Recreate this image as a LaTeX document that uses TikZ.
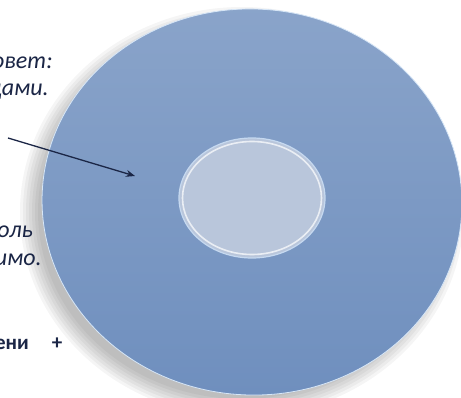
\documentclass[tikz,border=0pt]{standalone}
\usepackage{fontspec}
\setmainfont{Carlito}
\usetikzlibrary{arrows.meta, shapes.geometric}
\definecolor{cDISCtop}{HTML}{8AA4CA}
\definecolor{cDISCbot}{HTML}{6F8FBE}
\definecolor{cRIM}{HTML}{D6E6F7}
\definecolor{cHOLE}{HTML}{B9C6DB}
\definecolor{cHOLErim}{HTML}{C6D9F0}
\definecolor{cTXT}{HTML}{1B2646}

\begin{document}
\begin{tikzpicture}[x=1pt, y=-1pt,
  lbl/.style={anchor=base east, inner sep=0pt, text=cTXT, font=\fontsize{24}{28}\selectfont\itshape},
  bold lbl/.style={lbl, font=\fontsize{21}{25}\selectfont\bfseries},
]
\clip (0,0) rectangle (461,398);
\fill[white] (0,0) rectangle (461,398);
% soft shadow of the disc
\foreach \r in {-6,-3,...,12}
  \fill[black, opacity=0.04] (242,212) ellipse [x radius=210+\r, y radius=193+\r];
\node[ellipse, inner sep=0pt, minimum width=420pt, minimum height=386pt, rotate=-3,
  top color=cDISCtop, bottom color=cDISCbot, draw=cRIM, line width=0.8pt] (disc) at (252,202) {};
% centre hole
\node[ellipse, inner sep=0pt, minimum width=146pt, minimum height=120pt,
  fill=cHOLE, draw=cHOLErim, line width=1.2pt] (hole) at (252,198) {};
\draw[white, opacity=0.7, line width=1.6pt] (hole.center) ellipse [x radius=69.5, y radius=56.5];
% arrow
\coordinate (tail) at (8,138);
\coordinate (tip) at (135,176);
\draw[-{Stealth[length=9pt, width=7pt]}, line width=1.3pt, cTXT] (tail) -- (tip);
% texts cut at the left border
\node[lbl] (t1) at (53,69) {овет:};
\node[lbl] (t2) at (49,96) {дами.};
\node[lbl] (t3) at (33,238) {оль};
\node[lbl] (t4) at (42,266) {имо.};
\node[bold lbl] (t5) at (29,349) {ени};
\node[bold lbl, anchor=base] (t6) at (57,349) {+};
\end{tikzpicture}
\end{document}
